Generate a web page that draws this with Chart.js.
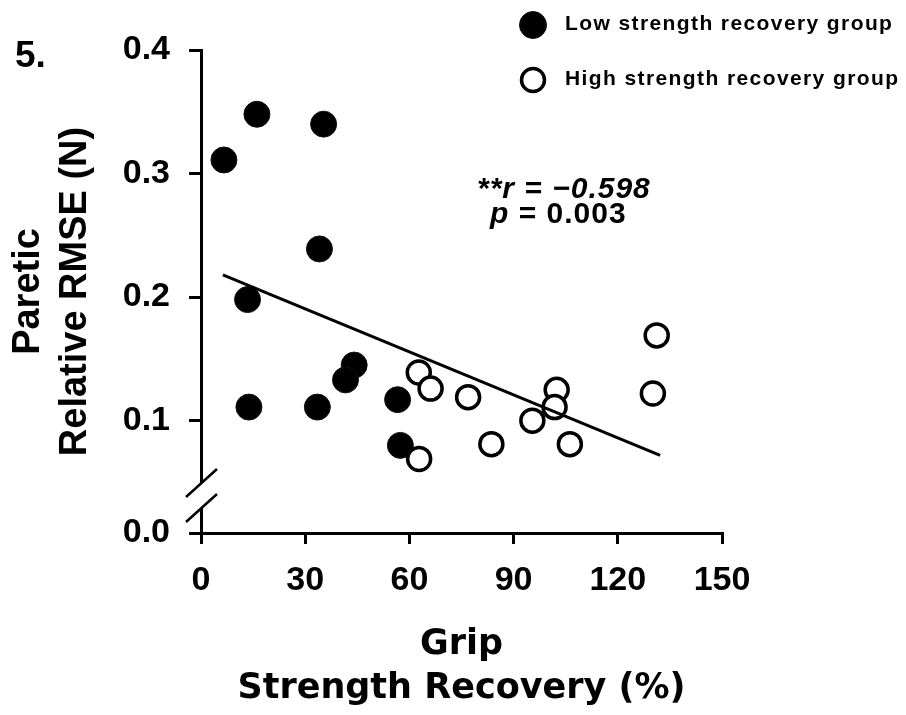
<!DOCTYPE html>
<html>
<head>
<meta charset="utf-8">
<script src="https://cdn.jsdelivr.net/npm/chart.js@4"></script>
<style>
  html, body { margin: 0; padding: 0; background: #fff; }
  #wrap { width: 906px; height: 715px; position: relative; }
</style>
</head>
<body>
<div id="wrap"><canvas id="chart"></canvas></div>
<script>
// grip strength recovery (%) vs paretic relative RMSE (N)
const lowX = [6.6, 16.1, 35.3, 34.1, 13.4, 44.1, 41.6, 13.8, 33.5, 56.6, 57.4];
const lowY = [0.311, 0.348, 0.340, 0.239, 0.198, 0.145, 0.133, 0.111, 0.111, 0.117, 0.080];
const highX = [62.7, 66.1, 76.9, 62.8, 83.6, 95.4, 102.4, 101.8, 106.2, 131.2, 130.1];
const highY = [0.139, 0.126, 0.119, 0.069, 0.081, 0.100, 0.125, 0.111, 0.081, 0.169, 0.122];
// regression line end points
const fitX = [6.3, 132.2];
const fitY = [0.218, 0.072];

const xTicks = [0, 30, 60, 90, 120, 150];
const yMin = 0.0091; // axis is broken below 0.1, bottom is shown as 0.0
const yTickValues = [yMin, 0.1, 0.2, 0.3, 0.4];
const yTickLabels = ["0.0", "0.1", "0.2", "0.3", "0.4"];

const toPoints = (xs, ys) => xs.map((x, i) => ({ x: x, y: ys[i] }));

const ARIAL = "'Liberation Sans', Arial, sans-serif";
const WIDE = "'DejaVu Sans', sans-serif";

// extra drawing: axis break, legend, r/p annotation, panel number
const extras = {
  id: "extras",
  afterDraw(chart) {
    const ctx = chart.ctx;
    const { left, bottom } = chart.chartArea;
    ctx.save();

    // axis break on y
    ctx.fillStyle = "#fff";
    ctx.fillRect(left - 3, bottom - 50, 6, 25);
    ctx.strokeStyle = "#000";
    ctx.lineWidth = 2.5;
    ctx.beginPath();
    ctx.moveTo(left - 15, bottom - 36);
    ctx.lineTo(left + 16, bottom - 64);
    ctx.moveTo(left - 15, bottom - 11);
    ctx.lineTo(left + 16, bottom - 39);
    ctx.stroke();

    // legend (low group first)
    const items = chart.data.datasets
      .filter(d => d.legendIndex !== undefined)
      .sort((a, b) => a.legendIndex - b.legendIndex);
    ctx.textBaseline = "alphabetic";
    ctx.textAlign = "left";
    items.forEach((d, i) => {
      const cy = 25 + i * 55;
      ctx.beginPath();
      ctx.arc(533, cy, d.legendR, 0, Math.PI * 2);
      ctx.fillStyle = d.backgroundColor;
      ctx.fill();
      ctx.lineWidth = d.borderWidth;
      ctx.strokeStyle = d.borderColor;
      ctx.stroke();
      ctx.fillStyle = "#000";
      ctx.font = "bold 21px " + ARIAL;
      ctx.letterSpacing = "1.4px";
      ctx.fillText(d.label, 565, 30 + i * 55);
      ctx.letterSpacing = "0px";
    });

    // correlation text
    ctx.fillStyle = "#000";
    ctx.letterSpacing = "1px";
    ctx.font = "italic bold 30px " + ARIAL;
    ctx.fillText("**r = \u22120.598", 477, 198);
    ctx.fillText("p", 490, 223);
    const pw = ctx.measureText("p").width;
    ctx.font = "bold 30px " + ARIAL;
    ctx.fillText(" = 0.003", 490 + pw, 223);
    ctx.letterSpacing = "0px";

    // panel number
    ctx.font = "bold 37px " + ARIAL;
    ctx.fillText("5.", 15, 67);
    ctx.restore();
  }
};

new Chart(document.getElementById("chart"), {
  type: "scatter",
  data: {
    datasets: [
      {
        type: "line",
        label: "fit",
        data: toPoints(fitX, fitY),
        borderColor: "#000",
        borderWidth: 3,
        pointRadius: 0,
        fill: false,
        order: 0,
      },
      {
        label: "High strength recovery group",
        data: toPoints(highX, highY),
        backgroundColor: "#fff",
        borderColor: "#000",
        borderWidth: 3.5,
        pointRadius: 11.5,
        order: 1,
        legendIndex: 1,
        legendR: 11.5,
      },
      {
        label: "Low strength recovery group",
        data: toPoints(lowX, lowY),
        backgroundColor: "#000",
        borderColor: "#111",
        borderWidth: 1,
        pointRadius: 13,
        order: 2,
        legendIndex: 0,
        legendR: 13.5,
      },
    ],
  },
  options: {
    responsive: true,
    maintainAspectRatio: false,
    animation: false,
    layout: { padding: { top: 50, right: 184, left: 0, bottom: 0 } },
    plugins: {
      legend: { display: false },
      tooltip: { enabled: false },
    },
    scales: {
      x: {
        type: "linear",
        min: 0,
        max: 150,
        afterBuildTicks: (scale) => {
          scale.ticks = xTicks.map(v => ({ value: v }));
        },
        afterFit: (scale) => { scale.height = 182; },
        ticks: {
          color: "#000",
          padding: 16,
          font: { family: ARIAL, size: 34, weight: "bold" },
        },
        grid: { drawOnChartArea: false, drawTicks: true, tickLength: 11, color: "#000", lineWidth: 3 },
        border: { display: true, color: "#000", width: 3 },
        title: {
          display: true,
          text: ["Grip", "Strength Recovery (%)"],
          color: "#000",
          padding: { top: 0, bottom: 4 },
          font: { family: WIDE, size: 35, weight: "bold", lineHeight: "44px" },
        },
      },
      y: {
        type: "linear",
        min: yMin,
        max: 0.4,
        afterBuildTicks: (scale) => {
          scale.ticks = yTickValues.map(v => ({ value: v }));
        },
        afterFit: (scale) => { scale.width = 201; },
        ticks: {
          color: "#000",
          padding: 19,
          font: { family: ARIAL, size: 34, weight: "bold" },
          callback: (value, index) => yTickLabels[index],
        },
        grid: { drawOnChartArea: false, drawTicks: true, tickLength: 12, color: "#000", lineWidth: 3 },
        border: { display: true, color: "#000", width: 3 },
        title: {
          display: true,
          text: ["Paretic", "Relative RMSE (N)"],
          color: "#000",
          padding: { top: 5.5, bottom: 0 },
          font: { family: ARIAL, size: 38, weight: "bold", lineHeight: "47px" },
        },
      },
    },
  },
  plugins: [extras],
});
</script>
</body>
</html>
